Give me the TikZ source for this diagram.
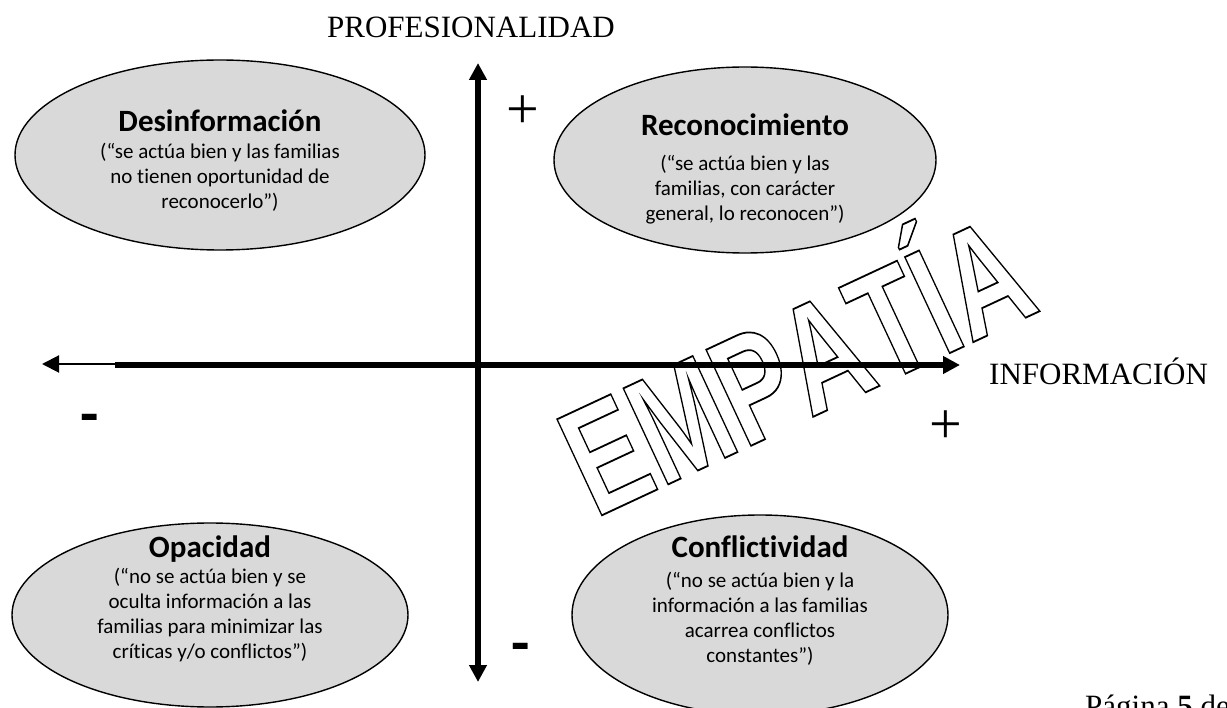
\documentclass[tikz,border=0pt]{standalone}
\usepackage{graphicx}
\usepackage{fontspec}
\setmainfont{Liberation Serif}
\newfontfamily\calfont[Ligatures=NoCommon]{Carlito}
\newfontfamily\sansf[Kerning=Off]{Liberation Sans}
\usetikzlibrary{arrows.meta,shapes.geometric}
\definecolor{ellgray}{HTML}{D9D9D9}
\newcommand\outlinedtxt[1]{\special{pdf:literal direct 1 Tr 1.8 w}#1\special{pdf:literal direct 0 Tr}}
\tikzset{
  quad/.style={ellipse, draw=black, line width=1.4pt, fill=ellgray, inner sep=0pt, outer sep=0pt},
  qtitle/.style={anchor=base, inner sep=0pt, font=\calfont\bfseries\fontsize{31}{31}\selectfont},
  qbody/.style={anchor=north, inner sep=0pt, align=center, font=\calfont\fontsize{21}{25}\selectfont},
  axisline/.style={line width=5.5pt, draw=black},
  thinaxis/.style={line width=2pt, draw=black},
  tipA/.style={-{Triangle[width=17pt,length=17pt]}},
  lbl/.style={inner sep=0pt, font=\fontsize{31}{31}\selectfont},
  plussign/.style={inner sep=0pt, anchor=center, font=\fontsize{58}{58}\selectfont},
  minussign/.style={inner sep=0pt, anchor=center, font=\calfont\bfseries\fontsize{60}{60}\selectfont},
  bigword/.style={anchor=base west, inner sep=0pt, rotate=25, font=\sansf\bfseries\fontsize{154}{154}\selectfont}
}
\begin{document}
\begin{tikzpicture}[x=1pt,y=-1pt]
\useasboundingbox (0,0) rectangle (1227,708);
\fill[white] (0,0) rectangle (1227,708);

% ellipses
\node[quad, minimum width=410pt, minimum height=190pt] (des) at (220,155) {};
\node[quad, minimum width=382pt, minimum height=186pt] (rec) at (745,160) {};
\node[quad, minimum width=396pt, minimum height=184pt] (opa) at (210,615) {};
\node[quad, minimum width=376pt, minimum height=200pt] (con) at (760,615) {};

\node[qtitle] (desT) at (220,132) {Desinformación};
\node[qbody] (desB) at (220,140) {\rule{0pt}{18pt}(“se actúa bien y las familias\\no tienen oportunidad de\\reconocerlo”)};

\node[qtitle] (recT) at (745,136) {Reconocimiento};
\node[qbody] (recB) at (745,152) {\rule{0pt}{18pt}(“se actúa bien y las\\familias, con carácter\\general, lo reconocen”)};

\node[qtitle] (opaT) at (210,557) {Opacidad};
\node[qbody] (opaB) at (210,565) {\rule{0pt}{18pt}(“no se actúa bien y se\\oculta información a las\\familias para minimizar las\\críticas y/o conflictos”)};

\node[qtitle] (conT) at (760,558) {Conflictividad};
\node[qbody] (conB) at (760,569) {\rule{0pt}{18pt}(“no se actúa bien y la\\información a las familias\\acarrea conflictos\\constantes”)};

% outlined word
\node[bigword] (emp) at (595,518.5) {\scalebox{0.712}[1]{\outlinedtxt{EMPATÍA}}};

% axes
\coordinate (ytop) at (478,63);
\coordinate (ybot) at (478,682);
\coordinate (xleft) at (42,364);
\coordinate (xthin) at (117,364);
\coordinate (xsplit) at (115,365);
\coordinate (xright) at (960,365);
\draw[axisline, {Triangle[width=17pt,length=17pt]}-{Triangle[width=17pt,length=17pt]}] (ybot) -- (ytop);
\draw[thinaxis, tipA] (xthin) -- (xleft);
\draw[axisline, tipA] (xsplit) -- (xright);

% labels
\node[lbl, anchor=base] (prof) at (471,38) {PROFESIONALIDAD};
\node[lbl, anchor=base west] (info) at (989,385) {INFORMACIÓN};
\node[plussign] (p1) at (523,112) {+};
\node[plussign] (p2) at (946,427) {+};
\node[minussign] (m1) at (89.5,424) {-};
\node[minussign] (m2) at (520.5,653) {-};
\node[lbl, anchor=base west] (pag) at (1085,716) {Página \textbf{5} de};
\end{tikzpicture}
\end{document}
